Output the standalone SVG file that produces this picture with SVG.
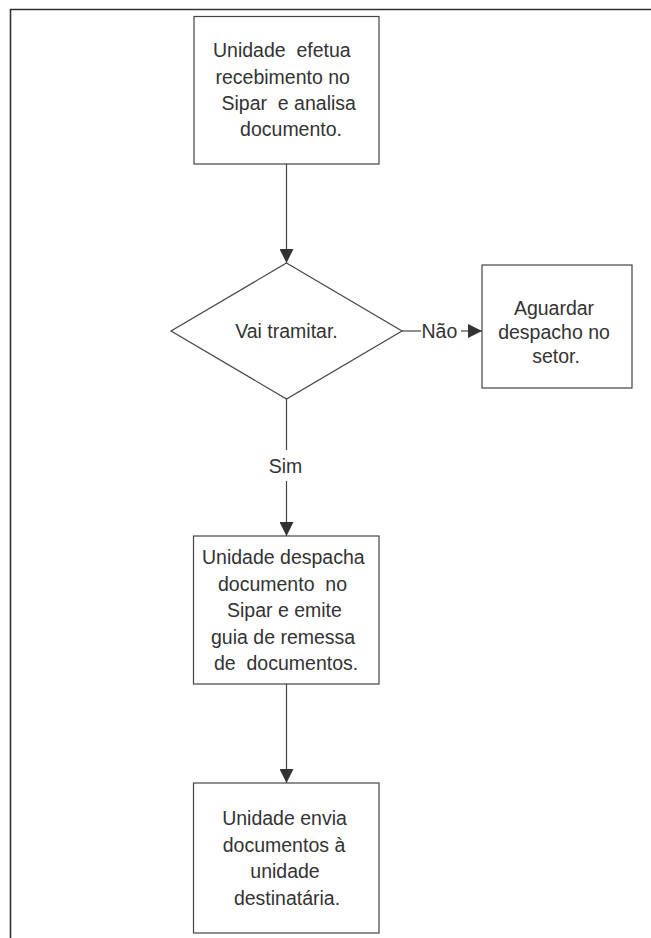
<svg xmlns="http://www.w3.org/2000/svg" width="651" height="938" viewBox="0 0 651 938">
<style>
.box{fill:#fff;stroke:#444;stroke-width:1.2}
.ln{fill:none;stroke:#444;stroke-width:1.2}
.t{font-family:"Liberation Sans",Arial,sans-serif;font-size:19.5px;fill:#333}
.c{text-anchor:middle}
.e{text-anchor:end}
</style>
<defs>
<marker id="ah" markerUnits="userSpaceOnUse" markerWidth="14" markerHeight="14" refX="14" refY="7" orient="auto">
<path d="M0,0 L14,7 L0,14 z" fill="#333"/>
</marker>
</defs>
<rect width="651" height="938" fill="#fff"/>
<path d="M10.5,938 V9.5 H651" fill="none" stroke="#333" stroke-width="1.6"/>
<g id="connectors">
<line class="ln" x1="286.5" y1="164" x2="286.5" y2="263" marker-end="url(#ah)"/>
<line class="ln" x1="402" y1="331" x2="421" y2="331"/>
<line class="ln" x1="461" y1="331" x2="482" y2="331" marker-end="url(#ah)"/>
<text class="t" x="421.5" y="337.5">Não</text>
<line class="ln" x1="286.5" y1="399" x2="286.5" y2="450"/>
<line class="ln" x1="286.5" y1="481" x2="286.5" y2="536" marker-end="url(#ah)"/>
<text class="t c" x="285.5" y="473">Sim</text>
<line class="ln" x1="286.5" y1="684" x2="286.5" y2="783" marker-end="url(#ah)"/>
</g>
<g id="n1">
<rect class="box" x="194" y="16.5" width="185" height="147.5"/>
<text class="t" xml:space="preserve"><tspan x="213" y="57">Unidade  efetua</tspan><tspan x="215.5" y="83.5">recebimento no</tspan><tspan x="221.5" y="110">Sipar  e analisa</tspan></text>
<text class="t e" x="342" y="136">documento.</text>
</g>
<g id="n2">
<path class="box" d="M286.5,263 L402,331 L286.5,399 L171,331 Z"/>
<text class="t c" x="286.5" y="338">Vai tramitar.</text>
</g>
<g id="n3">
<rect class="box" x="482" y="265" width="150" height="123"/>
<text class="t c"><tspan x="554" y="315">Aguardar</tspan><tspan x="554" y="339">despacho no</tspan><tspan x="556" y="363">setor.</tspan></text>
</g>
<g id="n4">
<rect class="box" x="193.5" y="536" width="185.5" height="148"/>
<text class="t" xml:space="preserve"><tspan x="202" y="564">Unidade despacha</tspan><tspan x="218" y="590.5">documento  no</tspan><tspan x="227" y="617">Sipar e emite</tspan><tspan x="211" y="643.5">guia de remessa</tspan><tspan x="214" y="670">de  documentos.</tspan></text>
</g>
<g id="n5">
<rect class="box" x="193.5" y="783" width="185.5" height="150"/>
<text class="t c"><tspan x="284.5" y="825">Unidade envia</tspan><tspan x="284" y="851.5">documentos à</tspan><tspan x="285" y="878">unidade</tspan><tspan x="287" y="904.5">destinatária.</tspan></text>
</g>
</svg>
